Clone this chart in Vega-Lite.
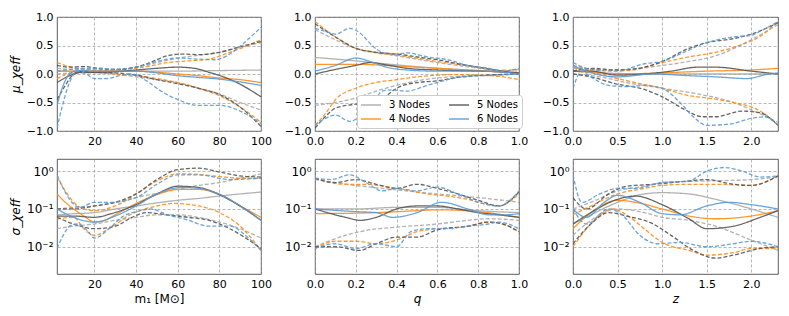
{
"$schema":"https://vega.github.io/schema/vega-lite/v6.json",
"padding":{"left":8,"top":10,"right":5,"bottom":5},
"datasets":{
"mu_m":[
{"n":3,"k":"m","x":2,"y":0.05},{"n":3,"k":"m","x":20,"y":0.05},{"n":3,"k":"m","x":40,"y":0.05},{"n":3,"k":"m","x":60,"y":0.05},{"n":3,"k":"m","x":80,"y":0.06},{"n":3,"k":"m","x":100,"y":0.07},
{"n":3,"k":"u","x":2,"y":0.1},{"n":3,"k":"u","x":10,"y":0.08},{"n":3,"k":"u","x":20,"y":0.08},{"n":3,"k":"u","x":30,"y":0.08},{"n":3,"k":"u","x":40,"y":0.12},{"n":3,"k":"u","x":50,"y":0.2},{"n":3,"k":"u","x":60,"y":0.28},{"n":3,"k":"u","x":70,"y":0.33},{"n":3,"k":"u","x":80,"y":0.38},{"n":3,"k":"u","x":90,"y":0.47},{"n":3,"k":"u","x":100,"y":0.55},
{"n":3,"k":"l","x":2,"y":0.0},{"n":3,"k":"l","x":10,"y":0.02},{"n":3,"k":"l","x":20,"y":0.02},{"n":3,"k":"l","x":30,"y":0.0},{"n":3,"k":"l","x":40,"y":-0.05},{"n":3,"k":"l","x":50,"y":-0.1},{"n":3,"k":"l","x":60,"y":-0.15},{"n":3,"k":"l","x":70,"y":-0.25},{"n":3,"k":"l","x":80,"y":-0.35},{"n":3,"k":"l","x":90,"y":-0.5},{"n":3,"k":"l","x":100,"y":-0.63},
{"n":4,"k":"m","x":2,"y":0.05},{"n":4,"k":"m","x":20,"y":0.05},{"n":4,"k":"m","x":40,"y":0.05},{"n":4,"k":"m","x":50,"y":0.03},{"n":4,"k":"m","x":60,"y":0.0},{"n":4,"k":"m","x":70,"y":-0.03},{"n":4,"k":"m","x":80,"y":-0.07},{"n":4,"k":"m","x":90,"y":-0.1},{"n":4,"k":"m","x":100,"y":-0.15},
{"n":4,"k":"u","x":2,"y":0.2},{"n":4,"k":"u","x":8,"y":0.13},{"n":4,"k":"u","x":15,"y":0.08},{"n":4,"k":"u","x":25,"y":0.06},{"n":4,"k":"u","x":35,"y":0.08},{"n":4,"k":"u","x":45,"y":0.13},{"n":4,"k":"u","x":55,"y":0.2},{"n":4,"k":"u","x":65,"y":0.23},{"n":4,"k":"u","x":75,"y":0.26},{"n":4,"k":"u","x":85,"y":0.38},{"n":4,"k":"u","x":95,"y":0.52},{"n":4,"k":"u","x":100,"y":0.6},
{"n":4,"k":"l","x":2,"y":-0.08},{"n":4,"k":"l","x":10,"y":0.02},{"n":4,"k":"l","x":20,"y":0.03},{"n":4,"k":"l","x":30,"y":0.0},{"n":4,"k":"l","x":40,"y":-0.03},{"n":4,"k":"l","x":50,"y":-0.08},{"n":4,"k":"l","x":60,"y":-0.15},{"n":4,"k":"l","x":70,"y":-0.25},{"n":4,"k":"l","x":80,"y":-0.38},{"n":4,"k":"l","x":90,"y":-0.58},{"n":4,"k":"l","x":100,"y":-0.85},
{"n":5,"k":"m","x":2,"y":-0.15},{"n":5,"k":"m","x":8,"y":-0.03},{"n":5,"k":"m","x":14,"y":0.03},{"n":5,"k":"m","x":20,"y":0.03},{"n":5,"k":"m","x":30,"y":0.04},{"n":5,"k":"m","x":40,"y":0.07},{"n":5,"k":"m","x":50,"y":0.1},{"n":5,"k":"m","x":60,"y":0.12},{"n":5,"k":"m","x":68,"y":0.1},{"n":5,"k":"m","x":75,"y":0.03},{"n":5,"k":"m","x":82,"y":-0.05},{"n":5,"k":"m","x":90,"y":-0.18},{"n":5,"k":"m","x":100,"y":-0.4},
{"n":5,"k":"u","x":2,"y":0.15},{"n":5,"k":"u","x":8,"y":0.12},{"n":5,"k":"u","x":15,"y":0.13},{"n":5,"k":"u","x":22,"y":0.1},{"n":5,"k":"u","x":30,"y":0.08},{"n":5,"k":"u","x":40,"y":0.12},{"n":5,"k":"u","x":48,"y":0.22},{"n":5,"k":"u","x":55,"y":0.32},{"n":5,"k":"u","x":62,"y":0.35},{"n":5,"k":"u","x":70,"y":0.34},{"n":5,"k":"u","x":80,"y":0.38},{"n":5,"k":"u","x":90,"y":0.48},{"n":5,"k":"u","x":100,"y":0.57},
{"n":5,"k":"l","x":2,"y":-0.45},{"n":5,"k":"l","x":6,"y":-0.2},{"n":5,"k":"l","x":10,"y":0.0},{"n":5,"k":"l","x":14,"y":0.05},{"n":5,"k":"l","x":20,"y":0.03},{"n":5,"k":"l","x":30,"y":0.02},{"n":5,"k":"l","x":40,"y":-0.02},{"n":5,"k":"l","x":50,"y":-0.1},{"n":5,"k":"l","x":60,"y":-0.17},{"n":5,"k":"l","x":70,"y":-0.25},{"n":5,"k":"l","x":80,"y":-0.36},{"n":5,"k":"l","x":90,"y":-0.58},{"n":5,"k":"l","x":100,"y":-0.92},
{"n":6,"k":"m","x":2,"y":-0.55},{"n":6,"k":"m","x":5,"y":-0.2},{"n":6,"k":"m","x":8,"y":0.0},{"n":6,"k":"m","x":12,"y":0.06},{"n":6,"k":"m","x":20,"y":0.05},{"n":6,"k":"m","x":30,"y":0.05},{"n":6,"k":"m","x":40,"y":0.05},{"n":6,"k":"m","x":50,"y":0.02},{"n":6,"k":"m","x":60,"y":-0.03},{"n":6,"k":"m","x":70,"y":-0.06},{"n":6,"k":"m","x":80,"y":-0.09},{"n":6,"k":"m","x":90,"y":-0.14},{"n":6,"k":"m","x":100,"y":-0.2},
{"n":6,"k":"u","x":2,"y":0.05},{"n":6,"k":"u","x":8,"y":0.08},{"n":6,"k":"u","x":14,"y":0.1},{"n":6,"k":"u","x":22,"y":0.1},{"n":6,"k":"u","x":30,"y":0.08},{"n":6,"k":"u","x":40,"y":0.12},{"n":6,"k":"u","x":50,"y":0.22},{"n":6,"k":"u","x":60,"y":0.28},{"n":6,"k":"u","x":70,"y":0.26},{"n":6,"k":"u","x":78,"y":0.25},{"n":6,"k":"u","x":85,"y":0.35},{"n":6,"k":"u","x":92,"y":0.55},{"n":6,"k":"u","x":100,"y":0.82},
{"n":6,"k":"l","x":2,"y":-0.95},{"n":6,"k":"l","x":5,"y":-0.5},{"n":6,"k":"l","x":8,"y":-0.15},{"n":6,"k":"l","x":12,"y":0.05},{"n":6,"k":"l","x":16,"y":0.0},{"n":6,"k":"l","x":20,"y":-0.08},{"n":6,"k":"l","x":26,"y":-0.08},{"n":6,"k":"l","x":32,"y":-0.03},{"n":6,"k":"l","x":38,"y":0.0},{"n":6,"k":"l","x":45,"y":-0.12},{"n":6,"k":"l","x":52,"y":-0.3},{"n":6,"k":"l","x":60,"y":-0.45},{"n":6,"k":"l","x":70,"y":-0.55},{"n":6,"k":"l","x":80,"y":-0.55},{"n":6,"k":"l","x":90,"y":-0.65},{"n":6,"k":"l","x":100,"y":-0.87}
],
"mu_q":[
{"n":3,"k":"m","x":0,"y":0.29},{"n":3,"k":"m","x":0.2,"y":0.23},{"n":3,"k":"m","x":0.4,"y":0.16},{"n":3,"k":"m","x":0.6,"y":0.1},{"n":3,"k":"m","x":0.8,"y":0.06},{"n":3,"k":"m","x":1,"y":0.02},
{"n":3,"k":"u","x":0,"y":0.78},{"n":3,"k":"u","x":0.1,"y":0.6},{"n":3,"k":"u","x":0.2,"y":0.45},{"n":3,"k":"u","x":0.3,"y":0.38},{"n":3,"k":"u","x":0.4,"y":0.32},{"n":3,"k":"u","x":0.5,"y":0.26},{"n":3,"k":"u","x":0.6,"y":0.2},{"n":3,"k":"u","x":0.7,"y":0.15},{"n":3,"k":"u","x":0.8,"y":0.1},{"n":3,"k":"u","x":0.9,"y":0.07},{"n":3,"k":"u","x":1,"y":0.05},
{"n":3,"k":"l","x":0,"y":-0.55},{"n":3,"k":"l","x":0.1,"y":-0.5},{"n":3,"k":"l","x":0.2,"y":-0.42},{"n":3,"k":"l","x":0.3,"y":-0.3},{"n":3,"k":"l","x":0.4,"y":-0.2},{"n":3,"k":"l","x":0.5,"y":-0.12},{"n":3,"k":"l","x":0.6,"y":-0.07},{"n":3,"k":"l","x":0.7,"y":-0.04},{"n":3,"k":"l","x":0.8,"y":-0.02},{"n":3,"k":"l","x":0.9,"y":-0.01},{"n":3,"k":"l","x":1,"y":0.0},
{"n":4,"k":"m","x":0,"y":0.17},{"n":4,"k":"m","x":0.2,"y":0.17},{"n":4,"k":"m","x":0.3,"y":0.16},{"n":4,"k":"m","x":0.4,"y":0.14},{"n":4,"k":"m","x":0.5,"y":0.12},{"n":4,"k":"m","x":0.6,"y":0.1},{"n":4,"k":"m","x":0.7,"y":0.08},{"n":4,"k":"m","x":0.8,"y":0.06},{"n":4,"k":"m","x":0.9,"y":0.04},{"n":4,"k":"m","x":1,"y":0.02},
{"n":4,"k":"u","x":0,"y":0.92},{"n":4,"k":"u","x":0.1,"y":0.65},{"n":4,"k":"u","x":0.2,"y":0.45},{"n":4,"k":"u","x":0.3,"y":0.37},{"n":4,"k":"u","x":0.4,"y":0.33},{"n":4,"k":"u","x":0.5,"y":0.28},{"n":4,"k":"u","x":0.6,"y":0.22},{"n":4,"k":"u","x":0.7,"y":0.17},{"n":4,"k":"u","x":0.8,"y":0.12},{"n":4,"k":"u","x":0.9,"y":0.06},{"n":4,"k":"u","x":1,"y":0.08},
{"n":4,"k":"l","x":0,"y":-0.9},{"n":4,"k":"l","x":0.05,"y":-0.7},{"n":4,"k":"l","x":0.1,"y":-0.45},{"n":4,"k":"l","x":0.2,"y":-0.25},{"n":4,"k":"l","x":0.3,"y":-0.15},{"n":4,"k":"l","x":0.4,"y":-0.1},{"n":4,"k":"l","x":0.5,"y":-0.05},{"n":4,"k":"l","x":0.6,"y":-0.02},{"n":4,"k":"l","x":0.7,"y":-0.01},{"n":4,"k":"l","x":0.8,"y":-0.02},{"n":4,"k":"l","x":0.9,"y":-0.04},{"n":4,"k":"l","x":1,"y":-0.1},
{"n":5,"k":"m","x":0,"y":0.0},{"n":5,"k":"m","x":0.1,"y":0.08},{"n":5,"k":"m","x":0.2,"y":0.15},{"n":5,"k":"m","x":0.27,"y":0.2},{"n":5,"k":"m","x":0.35,"y":0.16},{"n":5,"k":"m","x":0.45,"y":0.1},{"n":5,"k":"m","x":0.6,"y":0.07},{"n":5,"k":"m","x":0.8,"y":0.05},{"n":5,"k":"m","x":0.9,"y":0.04},{"n":5,"k":"m","x":1,"y":0.02},
{"n":5,"k":"u","x":0,"y":0.88},{"n":5,"k":"u","x":0.1,"y":0.65},{"n":5,"k":"u","x":0.2,"y":0.45},{"n":5,"k":"u","x":0.3,"y":0.38},{"n":5,"k":"u","x":0.4,"y":0.35},{"n":5,"k":"u","x":0.5,"y":0.3},{"n":5,"k":"u","x":0.6,"y":0.25},{"n":5,"k":"u","x":0.7,"y":0.18},{"n":5,"k":"u","x":0.8,"y":0.12},{"n":5,"k":"u","x":0.9,"y":0.06},{"n":5,"k":"u","x":1,"y":0.0},
{"n":5,"k":"l","x":0,"y":-0.95},{"n":5,"k":"l","x":0.05,"y":-0.75},{"n":5,"k":"l","x":0.1,"y":-0.6},{"n":5,"k":"l","x":0.2,"y":-0.53},{"n":5,"k":"l","x":0.3,"y":-0.5},{"n":5,"k":"l","x":0.35,"y":-0.38},{"n":5,"k":"l","x":0.4,"y":-0.25},{"n":5,"k":"l","x":0.5,"y":-0.15},{"n":5,"k":"l","x":0.6,"y":-0.12},{"n":5,"k":"l","x":0.7,"y":-0.06},{"n":5,"k":"l","x":0.8,"y":-0.03},{"n":5,"k":"l","x":0.9,"y":-0.01},{"n":5,"k":"l","x":1,"y":0.0},
{"n":6,"k":"m","x":0,"y":0.05},{"n":6,"k":"m","x":0.1,"y":0.15},{"n":6,"k":"m","x":0.2,"y":0.28},{"n":6,"k":"m","x":0.27,"y":0.22},{"n":6,"k":"m","x":0.35,"y":0.12},{"n":6,"k":"m","x":0.45,"y":0.07},{"n":6,"k":"m","x":0.6,"y":0.05},{"n":6,"k":"m","x":0.8,"y":0.05},{"n":6,"k":"m","x":0.9,"y":0.04},{"n":6,"k":"m","x":1,"y":0.0},
{"n":6,"k":"u","x":0,"y":0.8},{"n":6,"k":"u","x":0.05,"y":0.75},{"n":6,"k":"u","x":0.1,"y":0.7},{"n":6,"k":"u","x":0.17,"y":0.8},{"n":6,"k":"u","x":0.22,"y":0.72},{"n":6,"k":"u","x":0.28,"y":0.5},{"n":6,"k":"u","x":0.33,"y":0.38},{"n":6,"k":"u","x":0.4,"y":0.35},{"n":6,"k":"u","x":0.45,"y":0.37},{"n":6,"k":"u","x":0.55,"y":0.3},{"n":6,"k":"u","x":0.65,"y":0.25},{"n":6,"k":"u","x":0.75,"y":0.15},{"n":6,"k":"u","x":0.85,"y":0.1},{"n":6,"k":"u","x":0.92,"y":0.05},{"n":6,"k":"u","x":1,"y":0.1},
{"n":6,"k":"l","x":0,"y":-0.9},{"n":6,"k":"l","x":0.05,"y":-0.78},{"n":6,"k":"l","x":0.1,"y":-0.72},{"n":6,"k":"l","x":0.17,"y":-0.83},{"n":6,"k":"l","x":0.23,"y":-0.72},{"n":6,"k":"l","x":0.28,"y":-0.55},{"n":6,"k":"l","x":0.33,"y":-0.3},{"n":6,"k":"l","x":0.38,"y":-0.28},{"n":6,"k":"l","x":0.45,"y":-0.3},{"n":6,"k":"l","x":0.55,"y":-0.2},{"n":6,"k":"l","x":0.65,"y":-0.1},{"n":6,"k":"l","x":0.75,"y":-0.04},{"n":6,"k":"l","x":0.9,"y":-0.02},{"n":6,"k":"l","x":1,"y":0.0}
],
"mu_z":[
{"n":3,"k":"m","x":0,"y":0.05},{"n":3,"k":"m","x":0.2,"y":0.03},{"n":3,"k":"m","x":0.5,"y":0.01},{"n":3,"k":"m","x":1,"y":0.0},{"n":3,"k":"m","x":1.5,"y":0.0},{"n":3,"k":"m","x":2,"y":0.0},{"n":3,"k":"m","x":2.3,"y":0.0},
{"n":3,"k":"u","x":0,"y":0.1},{"n":3,"k":"u","x":0.3,"y":0.07},{"n":3,"k":"u","x":0.6,"y":0.08},{"n":3,"k":"u","x":1,"y":0.15},{"n":3,"k":"u","x":1.3,"y":0.22},{"n":3,"k":"u","x":1.6,"y":0.32},{"n":3,"k":"u","x":2,"y":0.6},{"n":3,"k":"u","x":2.3,"y":0.87},
{"n":3,"k":"l","x":0,"y":0.0},{"n":3,"k":"l","x":0.3,"y":-0.05},{"n":3,"k":"l","x":0.6,"y":-0.15},{"n":3,"k":"l","x":1,"y":-0.25},{"n":3,"k":"l","x":1.4,"y":-0.35},{"n":3,"k":"l","x":1.8,"y":-0.5},{"n":3,"k":"l","x":2.1,"y":-0.7},{"n":3,"k":"l","x":2.3,"y":-0.85},
{"n":4,"k":"m","x":0,"y":0.12},{"n":4,"k":"m","x":0.2,"y":0.05},{"n":4,"k":"m","x":0.5,"y":0.0},{"n":4,"k":"m","x":1,"y":0.02},{"n":4,"k":"m","x":1.5,"y":0.05},{"n":4,"k":"m","x":2,"y":0.07},{"n":4,"k":"m","x":2.3,"y":0.1},
{"n":4,"k":"u","x":0,"y":0.15},{"n":4,"k":"u","x":0.3,"y":0.07},{"n":4,"k":"u","x":0.6,"y":0.06},{"n":4,"k":"u","x":1,"y":0.2},{"n":4,"k":"u","x":1.3,"y":0.3},{"n":4,"k":"u","x":1.6,"y":0.38},{"n":4,"k":"u","x":1.9,"y":0.52},{"n":4,"k":"u","x":2.1,"y":0.66},{"n":4,"k":"u","x":2.3,"y":0.92},
{"n":4,"k":"l","x":0,"y":0.05},{"n":4,"k":"l","x":0.3,"y":0.0},{"n":4,"k":"l","x":0.5,"y":-0.08},{"n":4,"k":"l","x":0.7,"y":-0.15},{"n":4,"k":"l","x":1,"y":-0.25},{"n":4,"k":"l","x":1.3,"y":-0.38},{"n":4,"k":"l","x":1.5,"y":-0.42},{"n":4,"k":"l","x":1.8,"y":-0.5},{"n":4,"k":"l","x":2.1,"y":-0.65},{"n":4,"k":"l","x":2.3,"y":-0.9},
{"n":5,"k":"m","x":0,"y":0.05},{"n":5,"k":"m","x":0.2,"y":0.05},{"n":5,"k":"m","x":0.5,"y":-0.02},{"n":5,"k":"m","x":0.8,"y":0.0},{"n":5,"k":"m","x":1.1,"y":0.05},{"n":5,"k":"m","x":1.4,"y":0.12},{"n":5,"k":"m","x":1.6,"y":0.12},{"n":5,"k":"m","x":2,"y":0.05},{"n":5,"k":"m","x":2.3,"y":0.0},
{"n":5,"k":"u","x":0,"y":0.05},{"n":5,"k":"u","x":0.2,"y":0.1},{"n":5,"k":"u","x":0.5,"y":0.07},{"n":5,"k":"u","x":0.8,"y":0.12},{"n":5,"k":"u","x":1,"y":0.22},{"n":5,"k":"u","x":1.3,"y":0.45},{"n":5,"k":"u","x":1.5,"y":0.55},{"n":5,"k":"u","x":1.8,"y":0.62},{"n":5,"k":"u","x":2,"y":0.7},{"n":5,"k":"u","x":2.3,"y":0.9},
{"n":5,"k":"l","x":0,"y":0.0},{"n":5,"k":"l","x":0.2,"y":-0.05},{"n":5,"k":"l","x":0.5,"y":-0.18},{"n":5,"k":"l","x":0.8,"y":-0.27},{"n":5,"k":"l","x":1,"y":-0.4},{"n":5,"k":"l","x":1.25,"y":-0.62},{"n":5,"k":"l","x":1.45,"y":-0.75},{"n":5,"k":"l","x":1.6,"y":-0.75},{"n":5,"k":"l","x":1.9,"y":-0.65},{"n":5,"k":"l","x":2.1,"y":-0.68},{"n":5,"k":"l","x":2.3,"y":-0.9},
{"n":6,"k":"m","x":0,"y":0.15},{"n":6,"k":"m","x":0.15,"y":0.05},{"n":6,"k":"m","x":0.5,"y":-0.05},{"n":6,"k":"m","x":0.9,"y":0.0},{"n":6,"k":"m","x":1.3,"y":-0.03},{"n":6,"k":"m","x":1.6,"y":-0.05},{"n":6,"k":"m","x":1.95,"y":-0.08},{"n":6,"k":"m","x":2.2,"y":0.0},{"n":6,"k":"m","x":2.3,"y":0.02},
{"n":6,"k":"u","x":0,"y":0.2},{"n":6,"k":"u","x":0.2,"y":0.08},{"n":6,"k":"u","x":0.5,"y":0.05},{"n":6,"k":"u","x":0.8,"y":0.18},{"n":6,"k":"u","x":1,"y":0.22},{"n":6,"k":"u","x":1.2,"y":0.35},{"n":6,"k":"u","x":1.5,"y":0.55},{"n":6,"k":"u","x":1.8,"y":0.65},{"n":6,"k":"u","x":2,"y":0.68},{"n":6,"k":"u","x":2.1,"y":0.75},{"n":6,"k":"u","x":2.3,"y":0.92},
{"n":6,"k":"l","x":0,"y":-0.25},{"n":6,"k":"l","x":0.1,"y":0.05},{"n":6,"k":"l","x":0.2,"y":-0.05},{"n":6,"k":"l","x":0.4,"y":-0.2},{"n":6,"k":"l","x":0.6,"y":-0.22},{"n":6,"k":"l","x":0.8,"y":-0.2},{"n":6,"k":"l","x":1,"y":-0.25},{"n":6,"k":"l","x":1.2,"y":-0.5},{"n":6,"k":"l","x":1.35,"y":-0.75},{"n":6,"k":"l","x":1.5,"y":-0.9},{"n":6,"k":"l","x":1.75,"y":-0.88},{"n":6,"k":"l","x":2,"y":-0.78},{"n":6,"k":"l","x":2.15,"y":-0.75},{"n":6,"k":"l","x":2.3,"y":-0.9}
],
"sig_m":[
{"n":3,"k":"m","x":2,"y":0.07},{"n":3,"k":"m","x":10,"y":0.075},{"n":3,"k":"m","x":20,"y":0.08},{"n":3,"k":"m","x":30,"y":0.1},{"n":3,"k":"m","x":40,"y":0.12},{"n":3,"k":"m","x":50,"y":0.145},{"n":3,"k":"m","x":60,"y":0.17},{"n":3,"k":"m","x":70,"y":0.19},{"n":3,"k":"m","x":80,"y":0.22},{"n":3,"k":"m","x":90,"y":0.25},{"n":3,"k":"m","x":100,"y":0.28},
{"n":3,"k":"u","x":2,"y":0.1},{"n":3,"k":"u","x":10,"y":0.11},{"n":3,"k":"u","x":20,"y":0.12},{"n":3,"k":"u","x":30,"y":0.15},{"n":3,"k":"u","x":40,"y":0.2},{"n":3,"k":"u","x":50,"y":0.26},{"n":3,"k":"u","x":60,"y":0.33},{"n":3,"k":"u","x":70,"y":0.42},{"n":3,"k":"u","x":80,"y":0.5},{"n":3,"k":"u","x":90,"y":0.65},{"n":3,"k":"u","x":100,"y":0.85},
{"n":3,"k":"l","x":2,"y":0.03},{"n":3,"k":"l","x":10,"y":0.035},{"n":3,"k":"l","x":20,"y":0.04},{"n":3,"k":"l","x":30,"y":0.05},{"n":3,"k":"l","x":40,"y":0.06},{"n":3,"k":"l","x":50,"y":0.07},{"n":3,"k":"l","x":60,"y":0.07},{"n":3,"k":"l","x":70,"y":0.06},{"n":3,"k":"l","x":80,"y":0.045},{"n":3,"k":"l","x":90,"y":0.03},{"n":3,"k":"l","x":100,"y":0.017},
{"n":4,"k":"m","x":2,"y":0.25},{"n":4,"k":"m","x":6,"y":0.15},{"n":4,"k":"m","x":10,"y":0.1},{"n":4,"k":"m","x":15,"y":0.065},{"n":4,"k":"m","x":20,"y":0.045},{"n":4,"k":"m","x":25,"y":0.05},{"n":4,"k":"m","x":30,"y":0.07},{"n":4,"k":"m","x":40,"y":0.14},{"n":4,"k":"m","x":50,"y":0.24},{"n":4,"k":"m","x":60,"y":0.33},{"n":4,"k":"m","x":70,"y":0.33},{"n":4,"k":"m","x":80,"y":0.24},{"n":4,"k":"m","x":90,"y":0.12},{"n":4,"k":"m","x":100,"y":0.06},
{"n":4,"k":"u","x":2,"y":0.7},{"n":4,"k":"u","x":6,"y":0.3},{"n":4,"k":"u","x":10,"y":0.15},{"n":4,"k":"u","x":15,"y":0.1},{"n":4,"k":"u","x":20,"y":0.09},{"n":4,"k":"u","x":30,"y":0.12},{"n":4,"k":"u","x":40,"y":0.25},{"n":4,"k":"u","x":50,"y":0.55},{"n":4,"k":"u","x":60,"y":0.85},{"n":4,"k":"u","x":70,"y":0.82},{"n":4,"k":"u","x":80,"y":0.72},{"n":4,"k":"u","x":90,"y":0.65},{"n":4,"k":"u","x":100,"y":0.65},
{"n":4,"k":"l","x":2,"y":0.055},{"n":4,"k":"l","x":10,"y":0.06},{"n":4,"k":"l","x":15,"y":0.03},{"n":4,"k":"l","x":20,"y":0.02},{"n":4,"k":"l","x":27,"y":0.03},{"n":4,"k":"l","x":37,"y":0.07},{"n":4,"k":"l","x":50,"y":0.12},{"n":4,"k":"l","x":58,"y":0.14},{"n":4,"k":"l","x":70,"y":0.12},{"n":4,"k":"l","x":80,"y":0.08},{"n":4,"k":"l","x":90,"y":0.035},{"n":4,"k":"l","x":100,"y":0.008},
{"n":5,"k":"m","x":2,"y":0.065},{"n":5,"k":"m","x":10,"y":0.065},{"n":5,"k":"m","x":20,"y":0.06},{"n":5,"k":"m","x":28,"y":0.075},{"n":5,"k":"m","x":40,"y":0.13},{"n":5,"k":"m","x":50,"y":0.25},{"n":5,"k":"m","x":60,"y":0.4},{"n":5,"k":"m","x":70,"y":0.37},{"n":5,"k":"m","x":80,"y":0.24},{"n":5,"k":"m","x":90,"y":0.12},{"n":5,"k":"m","x":100,"y":0.05},
{"n":5,"k":"u","x":2,"y":0.1},{"n":5,"k":"u","x":10,"y":0.1},{"n":5,"k":"u","x":20,"y":0.12},{"n":5,"k":"u","x":30,"y":0.15},{"n":5,"k":"u","x":40,"y":0.25},{"n":5,"k":"u","x":50,"y":0.6},{"n":5,"k":"u","x":60,"y":1.1},{"n":5,"k":"u","x":70,"y":1.2},{"n":5,"k":"u","x":80,"y":0.95},{"n":5,"k":"u","x":90,"y":0.75},{"n":5,"k":"u","x":100,"y":0.7},
{"n":5,"k":"l","x":2,"y":0.06},{"n":5,"k":"l","x":10,"y":0.04},{"n":5,"k":"l","x":20,"y":0.03},{"n":5,"k":"l","x":30,"y":0.035},{"n":5,"k":"l","x":38,"y":0.06},{"n":5,"k":"l","x":45,"y":0.08},{"n":5,"k":"l","x":55,"y":0.07},{"n":5,"k":"l","x":65,"y":0.06},{"n":5,"k":"l","x":75,"y":0.05},{"n":5,"k":"l","x":85,"y":0.03},{"n":5,"k":"l","x":100,"y":0.009},
{"n":6,"k":"m","x":2,"y":0.1},{"n":6,"k":"m","x":10,"y":0.06},{"n":6,"k":"m","x":20,"y":0.045},{"n":6,"k":"m","x":30,"y":0.065},{"n":6,"k":"m","x":40,"y":0.12},{"n":6,"k":"m","x":50,"y":0.25},{"n":6,"k":"m","x":62,"y":0.37},{"n":6,"k":"m","x":70,"y":0.35},{"n":6,"k":"m","x":82,"y":0.22},{"n":6,"k":"m","x":92,"y":0.1},{"n":6,"k":"m","x":100,"y":0.05},
{"n":6,"k":"u","x":2,"y":0.8},{"n":6,"k":"u","x":5,"y":0.35},{"n":6,"k":"u","x":8,"y":0.18},{"n":6,"k":"u","x":13,"y":0.11},{"n":6,"k":"u","x":20,"y":0.15},{"n":6,"k":"u","x":28,"y":0.15},{"n":6,"k":"u","x":40,"y":0.2},{"n":6,"k":"u","x":50,"y":0.45},{"n":6,"k":"u","x":60,"y":0.8},{"n":6,"k":"u","x":70,"y":0.8},{"n":6,"k":"u","x":85,"y":0.6},{"n":6,"k":"u","x":100,"y":0.65},
{"n":6,"k":"l","x":2,"y":0.009},{"n":6,"k":"l","x":5,"y":0.02},{"n":6,"k":"l","x":8,"y":0.035},{"n":6,"k":"l","x":12,"y":0.04},{"n":6,"k":"l","x":17,"y":0.025},{"n":6,"k":"l","x":20,"y":0.017},{"n":6,"k":"l","x":27,"y":0.03},{"n":6,"k":"l","x":33,"y":0.06},{"n":6,"k":"l","x":42,"y":0.09},{"n":6,"k":"l","x":47,"y":0.1},{"n":6,"k":"l","x":55,"y":0.07},{"n":6,"k":"l","x":63,"y":0.055},{"n":6,"k":"l","x":75,"y":0.035},{"n":6,"k":"l","x":85,"y":0.035},{"n":6,"k":"l","x":95,"y":0.015},{"n":6,"k":"l","x":100,"y":0.008}
],
"sig_q":[
{"n":3,"k":"m","x":0,"y":0.1},{"n":3,"k":"m","x":0.2,"y":0.1},{"n":3,"k":"m","x":0.4,"y":0.11},{"n":3,"k":"m","x":0.6,"y":0.11},{"n":3,"k":"m","x":0.8,"y":0.09},{"n":3,"k":"m","x":1,"y":0.08},
{"n":3,"k":"u","x":0,"y":0.6},{"n":3,"k":"u","x":0.2,"y":0.42},{"n":3,"k":"u","x":0.4,"y":0.32},{"n":3,"k":"u","x":0.6,"y":0.25},{"n":3,"k":"u","x":0.8,"y":0.2},{"n":3,"k":"u","x":1,"y":0.15},
{"n":3,"k":"l","x":0,"y":0.01},{"n":3,"k":"l","x":0.15,"y":0.02},{"n":3,"k":"l","x":0.25,"y":0.027},{"n":3,"k":"l","x":0.4,"y":0.033},{"n":3,"k":"l","x":0.6,"y":0.04},{"n":3,"k":"l","x":0.75,"y":0.05},{"n":3,"k":"l","x":0.85,"y":0.055},{"n":3,"k":"l","x":1,"y":0.05},
{"n":4,"k":"m","x":0,"y":0.075},{"n":4,"k":"m","x":0.3,"y":0.08},{"n":4,"k":"m","x":0.5,"y":0.09},{"n":4,"k":"m","x":0.6,"y":0.095},{"n":4,"k":"m","x":0.8,"y":0.085},{"n":4,"k":"m","x":1,"y":0.06},
{"n":4,"k":"u","x":0,"y":0.65},{"n":4,"k":"u","x":0.15,"y":0.45},{"n":4,"k":"u","x":0.25,"y":0.45},{"n":4,"k":"u","x":0.4,"y":0.35},{"n":4,"k":"u","x":0.55,"y":0.25},{"n":4,"k":"u","x":0.65,"y":0.22},{"n":4,"k":"u","x":0.75,"y":0.18},{"n":4,"k":"u","x":0.85,"y":0.13},{"n":4,"k":"u","x":0.9,"y":0.12},{"n":4,"k":"u","x":1,"y":0.25},
{"n":4,"k":"l","x":0,"y":0.009},{"n":4,"k":"l","x":0.1,"y":0.014},{"n":4,"k":"l","x":0.2,"y":0.014},{"n":4,"k":"l","x":0.3,"y":0.012},{"n":4,"k":"l","x":0.4,"y":0.015},{"n":4,"k":"l","x":0.5,"y":0.025},{"n":4,"k":"l","x":0.6,"y":0.03},{"n":4,"k":"l","x":0.75,"y":0.035},{"n":4,"k":"l","x":0.85,"y":0.045},{"n":4,"k":"l","x":0.92,"y":0.04},{"n":4,"k":"l","x":1,"y":0.025},
{"n":5,"k":"m","x":0,"y":0.1},{"n":5,"k":"m","x":0.15,"y":0.06},{"n":5,"k":"m","x":0.22,"y":0.05},{"n":5,"k":"m","x":0.3,"y":0.06},{"n":5,"k":"m","x":0.4,"y":0.1},{"n":5,"k":"m","x":0.5,"y":0.12},{"n":5,"k":"m","x":0.6,"y":0.12},{"n":5,"k":"m","x":0.7,"y":0.1},{"n":5,"k":"m","x":0.8,"y":0.08},{"n":5,"k":"m","x":0.9,"y":0.07},{"n":5,"k":"m","x":1,"y":0.06},
{"n":5,"k":"u","x":0,"y":0.65},{"n":5,"k":"u","x":0.1,"y":0.5},{"n":5,"k":"u","x":0.2,"y":0.6},{"n":5,"k":"u","x":0.3,"y":0.45},{"n":5,"k":"u","x":0.4,"y":0.35},{"n":5,"k":"u","x":0.5,"y":0.45},{"n":5,"k":"u","x":0.6,"y":0.35},{"n":5,"k":"u","x":0.7,"y":0.25},{"n":5,"k":"u","x":0.8,"y":0.17},{"n":5,"k":"u","x":0.9,"y":0.12},{"n":5,"k":"u","x":1,"y":0.28},
{"n":5,"k":"l","x":0,"y":0.01},{"n":5,"k":"l","x":0.1,"y":0.01},{"n":5,"k":"l","x":0.22,"y":0.008},{"n":5,"k":"l","x":0.3,"y":0.012},{"n":5,"k":"l","x":0.4,"y":0.018},{"n":5,"k":"l","x":0.5,"y":0.018},{"n":5,"k":"l","x":0.6,"y":0.028},{"n":5,"k":"l","x":0.75,"y":0.035},{"n":5,"k":"l","x":0.85,"y":0.045},{"n":5,"k":"l","x":0.92,"y":0.04},{"n":5,"k":"l","x":1,"y":0.025},
{"n":6,"k":"m","x":0,"y":0.1},{"n":6,"k":"m","x":0.2,"y":0.085},{"n":6,"k":"m","x":0.3,"y":0.08},{"n":6,"k":"m","x":0.38,"y":0.06},{"n":6,"k":"m","x":0.5,"y":0.08},{"n":6,"k":"m","x":0.62,"y":0.15},{"n":6,"k":"m","x":0.75,"y":0.1},{"n":6,"k":"m","x":0.85,"y":0.07},{"n":6,"k":"m","x":0.93,"y":0.07},{"n":6,"k":"m","x":1,"y":0.075},
{"n":6,"k":"u","x":0,"y":0.65},{"n":6,"k":"u","x":0.08,"y":0.6},{"n":6,"k":"u","x":0.17,"y":0.8},{"n":6,"k":"u","x":0.25,"y":0.5},{"n":6,"k":"u","x":0.33,"y":0.3},{"n":6,"k":"u","x":0.4,"y":0.35},{"n":6,"k":"u","x":0.5,"y":0.3},{"n":6,"k":"u","x":0.6,"y":0.38},{"n":6,"k":"u","x":0.7,"y":0.25},{"n":6,"k":"u","x":0.8,"y":0.15},{"n":6,"k":"u","x":0.9,"y":0.12},{"n":6,"k":"u","x":1,"y":0.3},
{"n":6,"k":"l","x":0,"y":0.009},{"n":6,"k":"l","x":0.1,"y":0.012},{"n":6,"k":"l","x":0.2,"y":0.009},{"n":6,"k":"l","x":0.3,"y":0.012},{"n":6,"k":"l","x":0.4,"y":0.01},{"n":6,"k":"l","x":0.47,"y":0.025},{"n":6,"k":"l","x":0.55,"y":0.03},{"n":6,"k":"l","x":0.65,"y":0.03},{"n":6,"k":"l","x":0.75,"y":0.035},{"n":6,"k":"l","x":0.85,"y":0.04},{"n":6,"k":"l","x":0.9,"y":0.045},{"n":6,"k":"l","x":1,"y":0.03}
],
"sig_z":[
{"n":3,"k":"m","x":0,"y":0.04},{"n":3,"k":"m","x":0.2,"y":0.07},{"n":3,"k":"m","x":0.5,"y":0.15},{"n":3,"k":"m","x":0.8,"y":0.25},{"n":3,"k":"m","x":1,"y":0.27},{"n":3,"k":"m","x":1.3,"y":0.25},{"n":3,"k":"m","x":1.6,"y":0.18},{"n":3,"k":"m","x":2,"y":0.1},{"n":3,"k":"m","x":2.3,"y":0.06},
{"n":3,"k":"u","x":0,"y":0.1},{"n":3,"k":"u","x":0.2,"y":0.15},{"n":3,"k":"u","x":0.5,"y":0.3},{"n":3,"k":"u","x":0.8,"y":0.4},{"n":3,"k":"u","x":1,"y":0.5},{"n":3,"k":"u","x":1.5,"y":0.55},{"n":3,"k":"u","x":2,"y":0.6},{"n":3,"k":"u","x":2.3,"y":0.7},
{"n":3,"k":"l","x":0,"y":0.02},{"n":3,"k":"l","x":0.2,"y":0.05},{"n":3,"k":"l","x":0.5,"y":0.1},{"n":3,"k":"l","x":0.8,"y":0.08},{"n":3,"k":"l","x":1,"y":0.06},{"n":3,"k":"l","x":1.3,"y":0.05},{"n":3,"k":"l","x":1.6,"y":0.035},{"n":3,"k":"l","x":2,"y":0.015},{"n":3,"k":"l","x":2.3,"y":0.008},
{"n":4,"k":"m","x":0,"y":0.03},{"n":4,"k":"m","x":0.2,"y":0.08},{"n":4,"k":"m","x":0.5,"y":0.17},{"n":4,"k":"m","x":0.7,"y":0.15},{"n":4,"k":"m","x":1,"y":0.1},{"n":4,"k":"m","x":1.3,"y":0.065},{"n":4,"k":"m","x":1.6,"y":0.055},{"n":4,"k":"m","x":2,"y":0.065},{"n":4,"k":"m","x":2.3,"y":0.09},
{"n":4,"k":"u","x":0,"y":0.07},{"n":4,"k":"u","x":0.2,"y":0.12},{"n":4,"k":"u","x":0.5,"y":0.25},{"n":4,"k":"u","x":0.8,"y":0.35},{"n":4,"k":"u","x":1,"y":0.42},{"n":4,"k":"u","x":1.3,"y":0.45},{"n":4,"k":"u","x":1.6,"y":0.45},{"n":4,"k":"u","x":2,"y":0.42},{"n":4,"k":"u","x":2.3,"y":0.75},
{"n":4,"k":"l","x":0,"y":0.01},{"n":4,"k":"l","x":0.2,"y":0.04},{"n":4,"k":"l","x":0.45,"y":0.1},{"n":4,"k":"l","x":0.6,"y":0.07},{"n":4,"k":"l","x":0.8,"y":0.03},{"n":4,"k":"l","x":1,"y":0.013},{"n":4,"k":"l","x":1.3,"y":0.008},{"n":4,"k":"l","x":1.5,"y":0.006},{"n":4,"k":"l","x":1.8,"y":0.007},{"n":4,"k":"l","x":2,"y":0.009},{"n":4,"k":"l","x":2.3,"y":0.009},
{"n":5,"k":"m","x":0,"y":0.04},{"n":5,"k":"m","x":0.2,"y":0.08},{"n":5,"k":"m","x":0.5,"y":0.18},{"n":5,"k":"m","x":0.7,"y":0.22},{"n":5,"k":"m","x":1,"y":0.13},{"n":5,"k":"m","x":1.3,"y":0.055},{"n":5,"k":"m","x":1.5,"y":0.03},{"n":5,"k":"m","x":1.8,"y":0.035},{"n":5,"k":"m","x":2.1,"y":0.06},{"n":5,"k":"m","x":2.3,"y":0.09},
{"n":5,"k":"u","x":0,"y":0.2},{"n":5,"k":"u","x":0.15,"y":0.1},{"n":5,"k":"u","x":0.4,"y":0.25},{"n":5,"k":"u","x":0.6,"y":0.4},{"n":5,"k":"u","x":0.9,"y":0.45},{"n":5,"k":"u","x":1.3,"y":0.55},{"n":5,"k":"u","x":1.5,"y":0.6},{"n":5,"k":"u","x":1.8,"y":0.45},{"n":5,"k":"u","x":2,"y":0.42},{"n":5,"k":"u","x":2.3,"y":0.75},
{"n":5,"k":"l","x":0,"y":0.012},{"n":5,"k":"l","x":0.2,"y":0.04},{"n":5,"k":"l","x":0.4,"y":0.08},{"n":5,"k":"l","x":0.6,"y":0.065},{"n":5,"k":"l","x":0.9,"y":0.04},{"n":5,"k":"l","x":1.1,"y":0.02},{"n":5,"k":"l","x":1.35,"y":0.008},{"n":5,"k":"l","x":1.6,"y":0.005},{"n":5,"k":"l","x":1.8,"y":0.006},{"n":5,"k":"l","x":2.1,"y":0.009},{"n":5,"k":"l","x":2.3,"y":0.01},
{"n":6,"k":"m","x":0,"y":0.1},{"n":6,"k":"m","x":0.15,"y":0.06},{"n":6,"k":"m","x":0.35,"y":0.15},{"n":6,"k":"m","x":0.5,"y":0.23},{"n":6,"k":"m","x":0.75,"y":0.15},{"n":6,"k":"m","x":1,"y":0.075},{"n":6,"k":"m","x":1.2,"y":0.07},{"n":6,"k":"m","x":1.5,"y":0.12},{"n":6,"k":"m","x":1.75,"y":0.15},{"n":6,"k":"m","x":2,"y":0.13},{"n":6,"k":"m","x":2.3,"y":0.1},
{"n":6,"k":"u","x":0,"y":0.8},{"n":6,"k":"u","x":0.1,"y":0.15},{"n":6,"k":"u","x":0.3,"y":0.25},{"n":6,"k":"u","x":0.5,"y":0.35},{"n":6,"k":"u","x":0.7,"y":0.35},{"n":6,"k":"u","x":1,"y":0.5},{"n":6,"k":"u","x":1.3,"y":0.55},{"n":6,"k":"u","x":1.5,"y":1.0},{"n":6,"k":"u","x":1.7,"y":1.25},{"n":6,"k":"u","x":1.9,"y":1.0},{"n":6,"k":"u","x":2.1,"y":0.7},{"n":6,"k":"u","x":2.3,"y":0.75},
{"n":6,"k":"l","x":0,"y":0.1},{"n":6,"k":"l","x":0.15,"y":0.04},{"n":6,"k":"l","x":0.4,"y":0.1},{"n":6,"k":"l","x":0.55,"y":0.07},{"n":6,"k":"l","x":0.75,"y":0.02},{"n":6,"k":"l","x":0.95,"y":0.012},{"n":6,"k":"l","x":1.2,"y":0.013},{"n":6,"k":"l","x":1.5,"y":0.01},{"n":6,"k":"l","x":1.8,"y":0.012},{"n":6,"k":"l","x":2,"y":0.014},{"n":6,"k":"l","x":2.3,"y":0.01}
]
},
"columns":3,
"spacing":{"row":28,"column":54},
"bounds":"flush",
"concat":[
{"width":204,"height":114,"data":{"name":"mu_m"},
"mark":{"type":"line","interpolate":"monotone","strokeWidth":1.3,"clip":true},
"encoding":{
"x":{"field":"x","type":"quantitative","scale":{"domain":[2,100],"nice":false,"zero":false},"axis":{"values":[20,40,60,80,100],"title":null}},
"y":{"field":"y","type":"quantitative","scale":{"domain":[-1,1],"nice":false},"axis":{"values":[-1,-0.5,0,0.5,1],"format":".1f","title":"μ_χeff","titleFontStyle":"italic"}},
"color":{"field":"n","type":"nominal","scale":{"domain":[3,4,5,6],"range":["#aaaaaa","#ff8c1a","#555555","#5b9bd5"]},"legend":null},
"strokeDash":{"field":"k","type":"nominal","scale":{"domain":["m","u","l"],"range":[[1,0],[4,2],[4,2]]},"legend":null}}},
{"width":204,"height":114,"data":{"name":"mu_q"},
"mark":{"type":"line","interpolate":"monotone","strokeWidth":1.3,"clip":true},
"encoding":{
"x":{"field":"x","type":"quantitative","scale":{"domain":[0,1],"nice":false},"axis":{"values":[0,0.2,0.4,0.6,0.8,1],"format":".1f","title":null}},
"y":{"field":"y","type":"quantitative","scale":{"domain":[-1,1],"nice":false},"axis":{"values":[-1,-0.5,0,0.5,1],"format":".1f","title":null}},
"color":{"field":"n","type":"nominal","scale":{"domain":[3,4,5,6],"range":["#aaaaaa","#ff8c1a","#555555","#5b9bd5"]},
"legend":{"orient":"none","legendX":42,"legendY":78,"columns":2,"title":null,"symbolType":"M-2,0H2","symbolSize":100,"symbolOffset":4,"symbolStrokeWidth":1.5,"labelExpr":"datum.label + ' Nodes'","labelFontSize":10,"labelOffset":12,"columnPadding":16,"rowPadding":3,"padding":4,"fillColor":"white","strokeColor":"#cccccc","cornerRadius":3}},
"strokeDash":{"field":"k","type":"nominal","scale":{"domain":["m","u","l"],"range":[[1,0],[4,2],[4,2]]},"legend":null}}},
{"width":205,"height":114,"data":{"name":"mu_z"},
"mark":{"type":"line","interpolate":"monotone","strokeWidth":1.3,"clip":true},
"encoding":{
"x":{"field":"x","type":"quantitative","scale":{"domain":[0,2.3],"nice":false},"axis":{"values":[0,0.5,1,1.5,2],"format":".1f","title":null}},
"y":{"field":"y","type":"quantitative","scale":{"domain":[-1,1],"nice":false},"axis":{"values":[-1,-0.5,0,0.5,1],"format":".1f","title":null}},
"color":{"field":"n","type":"nominal","scale":{"domain":[3,4,5,6],"range":["#aaaaaa","#ff8c1a","#555555","#5b9bd5"]},"legend":null},
"strokeDash":{"field":"k","type":"nominal","scale":{"domain":["m","u","l"],"range":[[1,0],[4,2],[4,2]]},"legend":null}}},
{"width":204,"height":115,"data":{"name":"sig_m"},
"mark":{"type":"line","interpolate":"monotone","strokeWidth":1.3,"clip":true},
"encoding":{
"x":{"field":"x","type":"quantitative","scale":{"domain":[2,100],"nice":false,"zero":false},"axis":{"values":[20,40,60,80,100],"title":"m₁ [M⊙]"}},
"y":{"field":"y","type":"quantitative","scale":{"type":"log","domain":[0.0019,2.1],"nice":false},"axis":{"values":[0.01,0.1,1],"labelExpr":"datum.value >= 0.5 ? '10⁰' : datum.value >= 0.05 ? '10⁻¹' : '10⁻²'","labelFontSize":12,"title":"σ_χeff","titleFontStyle":"italic"}},
"color":{"field":"n","type":"nominal","scale":{"domain":[3,4,5,6],"range":["#aaaaaa","#ff8c1a","#555555","#5b9bd5"]},"legend":null},
"strokeDash":{"field":"k","type":"nominal","scale":{"domain":["m","u","l"],"range":[[1,0],[4,2],[4,2]]},"legend":null}}},
{"width":204,"height":115,"data":{"name":"sig_q"},
"mark":{"type":"line","interpolate":"monotone","strokeWidth":1.3,"clip":true},
"encoding":{
"x":{"field":"x","type":"quantitative","scale":{"domain":[0,1],"nice":false},"axis":{"values":[0,0.2,0.4,0.6,0.8,1],"format":".1f","title":"q","titleFontStyle":"italic"}},
"y":{"field":"y","type":"quantitative","scale":{"type":"log","domain":[0.0019,2.1],"nice":false},"axis":{"values":[0.01,0.1,1],"labelExpr":"datum.value >= 0.5 ? '10⁰' : datum.value >= 0.05 ? '10⁻¹' : '10⁻²'","labelFontSize":12,"title":null}},
"color":{"field":"n","type":"nominal","scale":{"domain":[3,4,5,6],"range":["#aaaaaa","#ff8c1a","#555555","#5b9bd5"]},"legend":null},
"strokeDash":{"field":"k","type":"nominal","scale":{"domain":["m","u","l"],"range":[[1,0],[4,2],[4,2]]},"legend":null}}},
{"width":205,"height":115,"data":{"name":"sig_z"},
"mark":{"type":"line","interpolate":"monotone","strokeWidth":1.3,"clip":true},
"encoding":{
"x":{"field":"x","type":"quantitative","scale":{"domain":[0,2.3],"nice":false},"axis":{"values":[0,0.5,1,1.5,2],"format":".1f","title":"z","titleFontStyle":"italic"}},
"y":{"field":"y","type":"quantitative","scale":{"type":"log","domain":[0.0019,2.1],"nice":false},"axis":{"values":[0.01,0.1,1],"labelExpr":"datum.value >= 0.5 ? '10⁰' : datum.value >= 0.05 ? '10⁻¹' : '10⁻²'","labelFontSize":12,"title":null}},
"color":{"field":"n","type":"nominal","scale":{"domain":[3,4,5,6],"range":["#aaaaaa","#ff8c1a","#555555","#5b9bd5"]},"legend":null},
"strokeDash":{"field":"k","type":"nominal","scale":{"domain":["m","u","l"],"range":[[1,0],[4,2],[4,2]]},"legend":null}}}
],
"resolve":{"scale":{"color":"independent","strokeDash":"independent"},"legend":{"color":"independent","strokeDash":"independent"}},
"config":{
"view":{"stroke":"#333333","strokeWidth":0.8},
"axis":{"grid":true,"gridDash":[3,2],"gridColor":"#999999","gridWidth":0.7,"domain":false,"ticks":false,"labelFont":"DejaVu Sans","labelFontSize":11,"labelColor":"#000000","labelPadding":4,"labelFlush":false,"labelOverlap":false,"titleFont":"DejaVu Sans","titleFontSize":12,"titleFontWeight":"normal","titleColor":"#000000","titlePadding":4},
"legend":{"labelFont":"DejaVu Sans","labelColor":"#000000"},
"line":{"strokeOpacity":0.9}
}
}
